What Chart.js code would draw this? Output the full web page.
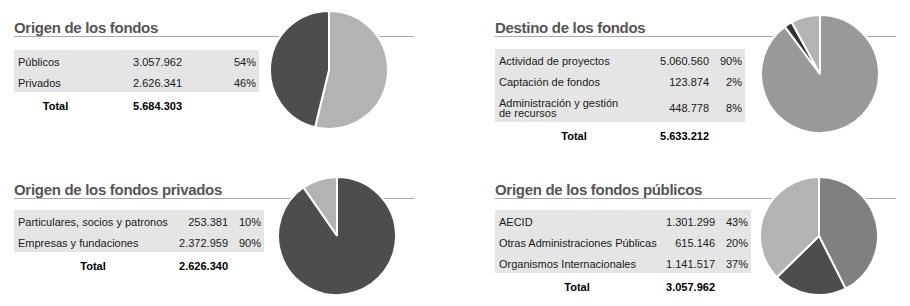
<!DOCTYPE html>
<html>
<head>
<meta charset="utf-8">
<script src="https://cdn.jsdelivr.net/npm/chart.js@4/dist/chart.umd.min.js"></script>
<style>
  body { margin: 0; background: #fff; font-family: "Liberation Sans", Arial, sans-serif; }
  #wrap { position: relative; width: 910px; height: 306px; overflow: hidden; }
  .title { position: absolute; font-size: 15px; font-weight: bold; color: #555; line-height: 18px; letter-spacing: -0.3px; white-space: nowrap; }
  .rule { position: absolute; height: 1px; background: #aaa; }
  table { position: absolute; border-collapse: collapse; table-layout: fixed; font-size: 11px; color: #1a1a1a; }
  td { padding: 0; white-space: nowrap; vertical-align: middle; }
  td span { position: relative; top: 1px; }
  tr.data td { background: #e5e5e5; height: 21px; }
  tr.data td.lbl { padding-left: 4px; }
  td.num { text-align: right; padding-right: 3px; }
  tr.total td { height: 23px; font-weight: bold; color: #000; }
  tr.total td span { top: 2px; }
  tr.total td.lbl { text-align: center; }
  canvas { position: absolute; }
</style>
</head>
<body>
<div id="wrap"></div>
<script>
// Origen de los fondos
const origenLabels = ['Públicos', 'Privados'];
const origenValues = [3057962, 2626341];
const origenPct = ['54%', '46%'];

// Destino de los fondos
const destinoLabels = ['Actividad de proyectos', 'Captación de fondos', 'Administración y gestión\nde recursos'];
const destinoValues = [5060560, 123874, 448778];
const destinoPct = ['90%', '2%', '8%'];

// Origen de los fondos privados
const privadosLabels = ['Particulares, socios y patronos', 'Empresas y fundaciones'];
const privadosValues = [253381, 2372959];
const privadosPct = ['10%', '90%'];

// Origen de los fondos públicos
const publicosLabels = ['AECID', 'Otras Administraciones Públicas', 'Organismos Internacionales'];
const publicosValues = [1301299, 615146, 1141517];
const publicosPct = ['43%', '20%', '37%'];

function fmt(n) {
    return String(n).replace(/\B(?=(\d{3})+(?!\d))/g, '.');
}

const wrap = document.getElementById('wrap');

function addPanel(p) {
    const t = document.createElement('div');
    t.className = 'title';
    t.textContent = p.title;
    t.style.left = p.x + 'px';
    t.style.top = p.titleTop + 'px';
    wrap.appendChild(t);

    const r = document.createElement('div');
    r.className = 'rule';
    r.style.left = p.x + 'px';
    r.style.top = p.ruleY + 'px';
    r.style.width = p.ruleW + 'px';
    wrap.appendChild(r);

    const tbl = document.createElement('table');
    tbl.style.left = p.x + 'px';
    tbl.style.top = p.tableTop + 'px';
    tbl.style.width = p.cols.reduce((a, b) => a + b, 0) + 'px';
    let html = '<colgroup>' + p.cols.map(w => '<col style="width:' + w + 'px">').join('') + '</colgroup>';
    p.labels.forEach((lab, i) => {
        const multi = lab.indexOf('\n') >= 0;
        const lblCell = multi
            ? '<td class="lbl" style="white-space:pre-line;line-height:10px;height:31px"><span>' + lab + '</span></td>'
            : '<td class="lbl"><span>' + lab + '</span></td>';
        html += '<tr class="data">' + lblCell +
            '<td class="num"><span>' + fmt(p.values[i]) + '</span></td>' +
            '<td class="num"><span>' + p.pct[i] + '</span></td></tr>';
    });
    const total = p.values.reduce((a, b) => a + b, 0);
    html += '<tr class="total"><td class="lbl"><span>Total</span></td><td class="num"><span>' + fmt(total) + '</span></td><td></td></tr>';
    tbl.innerHTML = html;
    wrap.appendChild(tbl);

    const c = document.createElement('canvas');
    c.width = 120;
    c.height = 120;
    c.style.left = p.pieX + 'px';
    c.style.top = p.pieY + 'px';
    wrap.appendChild(c);

    new Chart(c.getContext('2d'), {
        type: 'pie',
        data: {
            labels: p.labels,
            datasets: [{
                data: p.values,
                backgroundColor: p.colors,
                borderColor: '#ffffff',
                borderWidth: 2
            }]
        },
        options: {
            responsive: false,
            animation: false,
            rotation: p.rotation || 0,
            plugins: { legend: { display: false }, tooltip: { enabled: false } }
        }
    });
}

addPanel({
    title: 'Origen de los fondos', x: 14, titleTop: 19, ruleY: 36, ruleW: 400,
    tableTop: 50, cols: [83, 88, 74],
    labels: origenLabels, values: origenValues, pct: origenPct,
    colors: ['#b3b3b3', '#4d4d4d'], pieX: 269, pieY: 10
});
addPanel({
    title: 'Destino de los fondos', x: 495, titleTop: 19, ruleY: 36, ruleW: 401,
    tableTop: 49, cols: [158, 59, 33],
    labels: destinoLabels, values: destinoValues, pct: destinoPct,
    colors: ['#999999', '#333333', '#b3b3b3'], pieX: 760, pieY: 14
});
addPanel({
    title: 'Origen de los fondos privados', x: 14, titleTop: 181, ruleY: 198, ruleW: 400,
    tableTop: 210, cols: [158, 59, 33],
    labels: privadosLabels, values: privadosValues, pct: privadosPct,
    colors: ['#b3b3b3', '#4d4d4d'], pieX: 277, pieY: 176,
    // the small slice sits just left of 12 o'clock in the original
    rotation: -360 * privadosValues[0] / (privadosValues[0] + privadosValues[1])
});
addPanel({
    title: 'Origen de los fondos públicos', x: 495, titleTop: 181, ruleY: 198, ruleW: 401,
    tableTop: 210, cols: [164, 59, 33],
    labels: publicosLabels, values: publicosValues, pct: publicosPct,
    colors: ['#808080', '#4d4d4d', '#b3b3b3'], pieX: 759, pieY: 176
});
</script>
</body>
</html>
